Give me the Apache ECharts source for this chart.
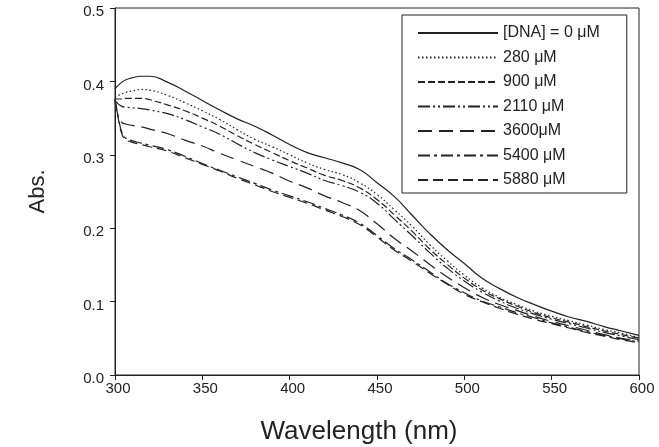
<!DOCTYPE html>
<html>
<head>
<meta charset="utf-8">
<script src="https://cdn.jsdelivr.net/npm/echarts@6/dist/echarts.min.js"></script>
<style>
	html, body { margin: 0; padding: 0; background: #fff; }
	#chart { width: 659px; height: 447px; }
</style>
</head>
<body>
<div id="chart"></div>
<script>
// wavelengths (nm) shared by every spectrum
const wavelengths = [300, 302, 304, 306, 310, 315, 320, 330, 340, 350, 360, 370, 380, 390, 400, 410, 420, 430, 440, 450, 460, 470, 480, 490, 500, 510, 520, 530, 540, 550, 560, 570, 580, 590, 600];

const seriesNames = ["[DNA] = 0 μM", "280 μM", "900 μM", "2110 μM", "3600μM", "5400 μM", "5880 μM"];

const abs0 = [0.390, 0.395, 0.399, 0.402, 0.405, 0.407, 0.407, 0.399, 0.387, 0.374, 0.361, 0.349, 0.339, 0.327, 0.314, 0.303, 0.296, 0.289, 0.280, 0.262, 0.243, 0.218, 0.193, 0.171, 0.152, 0.132, 0.118, 0.106, 0.096, 0.087, 0.079, 0.073, 0.066, 0.060, 0.054];
const abs280 = [0.378, 0.381, 0.383, 0.385, 0.387, 0.389, 0.388, 0.381, 0.371, 0.360, 0.348, 0.334, 0.321, 0.311, 0.300, 0.289, 0.280, 0.273, 0.262, 0.246, 0.225, 0.203, 0.178, 0.156, 0.136, 0.119, 0.106, 0.096, 0.087, 0.080, 0.074, 0.068, 0.062, 0.057, 0.051];
const abs900 = [0.376, 0.376, 0.376, 0.377, 0.377, 0.377, 0.375, 0.368, 0.360, 0.350, 0.339, 0.326, 0.314, 0.303, 0.292, 0.282, 0.272, 0.265, 0.255, 0.239, 0.218, 0.196, 0.172, 0.151, 0.132, 0.116, 0.104, 0.094, 0.085, 0.078, 0.072, 0.066, 0.060, 0.055, 0.050];
const abs2110 = [0.374, 0.369, 0.366, 0.365, 0.364, 0.363, 0.361, 0.356, 0.348, 0.338, 0.328, 0.315, 0.303, 0.293, 0.284, 0.275, 0.265, 0.258, 0.249, 0.234, 0.212, 0.190, 0.167, 0.146, 0.128, 0.113, 0.101, 0.091, 0.083, 0.076, 0.070, 0.064, 0.058, 0.053, 0.048];
const abs3600 = [0.372, 0.352, 0.344, 0.342, 0.340, 0.338, 0.335, 0.329, 0.320, 0.312, 0.302, 0.293, 0.284, 0.275, 0.264, 0.255, 0.244, 0.235, 0.224, 0.206, 0.186, 0.169, 0.151, 0.134, 0.119, 0.106, 0.096, 0.088, 0.080, 0.073, 0.067, 0.061, 0.055, 0.050, 0.046];
const abs5400 = [0.376, 0.350, 0.330, 0.323, 0.319, 0.316, 0.313, 0.307, 0.298, 0.288, 0.279, 0.270, 0.261, 0.252, 0.244, 0.236, 0.227, 0.218, 0.207, 0.190, 0.172, 0.157, 0.141, 0.125, 0.112, 0.101, 0.093, 0.085, 0.078, 0.071, 0.065, 0.059, 0.054, 0.049, 0.045];
const abs5880 = [0.376, 0.348, 0.328, 0.321, 0.317, 0.314, 0.311, 0.305, 0.296, 0.287, 0.278, 0.268, 0.259, 0.250, 0.242, 0.234, 0.225, 0.216, 0.205, 0.188, 0.170, 0.155, 0.139, 0.124, 0.110, 0.100, 0.091, 0.083, 0.076, 0.070, 0.064, 0.058, 0.053, 0.048, 0.044];

const xTicks = [300, 350, 400, 450, 500, 550, 600];
const yTicks = [0.0, 0.1, 0.2, 0.3, 0.4, 0.5];

const spectra = [abs0, abs280, abs900, abs2110, abs3600, abs5400, abs5880];
const dashes = ["solid", [1.5, 2.5], [7, 3], [12, 3, 2, 3, 2, 3], [14, 7], [12, 4, 3, 4], [10, 5]];

const font = "Liberation Sans, Arial, sans-serif";
const ink = "#222";

const chart = echarts.init(document.getElementById("chart"), null, { renderer: "canvas" });

const series = spectra.map((vals, i) => ({
	name: seriesNames[i],
	type: "line",
	symbol: "none",
	smooth: 0.5,
	animation: false,
	itemStyle: { color: ink },
	lineStyle: { color: ink, width: 1.2, type: dashes[i] },
	data: wavelengths.map((w, j) => [w, vals[j]])
}));

chart.setOption({
	backgroundColor: "#fff",
	animation: false,
	grid: {
		left: 115, right: 20, top: 8, bottom: 72,
		outerBoundsMode: "none",
		show: true, borderColor: ink, borderWidth: 1
	},
	legend: {
		orient: "vertical",
		left: 402, top: 15,
		padding: [10, 27, 5, 15],
		borderColor: ink, borderWidth: 1,
		itemWidth: 80, itemHeight: 14, itemGap: 8.5,
		// hide the marker dot, keep only the dashed line sample
		itemStyle: { color: "rgba(0,0,0,0)", borderWidth: 0, opacity: 0 },
		textStyle: { fontFamily: font, fontSize: 16, color: ink },
		data: seriesNames
	},
	xAxis: {
		type: "value",
		min: xTicks[0], max: xTicks[xTicks.length - 1], interval: 50,
		name: "Wavelength (nm)", nameLocation: "middle", nameGap: 44,
		nameTextStyle: { fontFamily: font, fontSize: 26, color: ink, padding: [0, 36, 0, 0] },
		axisLine: { lineStyle: { color: ink, width: 1 } },
		axisTick: { inside: false, length: 5, lineStyle: { color: ink } },
		axisLabel: { fontFamily: font, fontSize: 15, color: ink, margin: 6, padding: [0, 0, 0, 6] },
		splitLine: { show: false }
	},
	yAxis: {
		type: "value",
		min: yTicks[0], max: yTicks[yTicks.length - 1], interval: 0.1,
		name: "Abs.", nameLocation: "middle", nameGap: 66, nameRotate: 90,
		nameTextStyle: { fontFamily: font, fontSize: 22, color: ink },
		axisLine: { show: true, lineStyle: { color: ink, width: 1 } },
		axisTick: { show: true, inside: false, length: 5, lineStyle: { color: ink } },
		axisLabel: { fontFamily: font, fontSize: 15, color: ink, margin: 11, verticalAlign: "top", lineHeight: 8, formatter: v => v.toFixed(1) },
		splitLine: { show: false }
	},
	series
});
</script>
</body>
</html>
